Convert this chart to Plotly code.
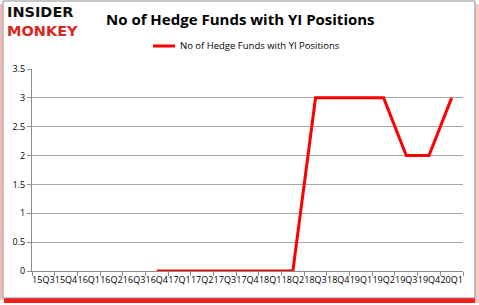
import plotly.graph_objects as go

quarters = ["15Q3", "15Q4", "16Q1", "16Q2", "16Q3", "16Q4", "17Q1", "17Q2", "17Q3", "17Q4",
            "18Q1", "18Q2", "18Q3", "18Q4", "19Q1", "19Q2", "19Q3", "19Q4", "20Q1"]
funds = [None, None, None, None, None, 0, 0, 0, 0, 0, 0, 0, 3, 3, 3, 3, 2, 2, 3]
y_ticks = [0, 0.5, 1, 1.5, 2, 2.5, 3, 3.5]
y_labels = ["0", "0.5", "1", "1.5", "2", "2.5", "3", "3.5"]
series_name = "No of Hedge Funds with YI Positions"
title_text = "No of Hedge Funds with YI Positions"

W, H = 479, 305
L, R, T, B = 32, 16, 69, 34
pw, ph = W - L - R, H - T - B


def px(x):
    return (x - L) / pw


def py(y):
    return (H - B - y) / ph


fig = go.Figure()
fig.add_trace(go.Scatter(
    x=quarters, y=funds, mode="lines", name=series_name,
    line=dict(color="#ff0000", width=3), connectgaps=False,
))

shapes = [
    dict(type="rect", xref="paper", yref="paper", x0=px(4), x1=px(478), y0=py(303), y1=py(298),
         fillcolor="#ff1a1a", line=dict(width=0), layer="below"),
    dict(type="rect", xref="paper", yref="paper", x0=px(475), x1=px(479), y0=py(303), y1=py(4),
         fillcolor="#ffc8c8", line=dict(width=0), layer="below"),
    dict(type="rect", xref="paper", yref="paper", x0=px(0), x1=px(2.5), y0=py(300), y1=py(4),
         fillcolor="#f4b8b8", line=dict(width=0), layer="below"),
    dict(type="rect", xref="paper", yref="paper", x0=px(3), x1=px(475), y0=py(298), y1=py(1),
         line=dict(color="#8c8c8c", width=1), fillcolor="rgba(0,0,0,0)", layer="below"),
    dict(type="line", xref="paper", yref="paper", x0=px(153), x1=px(175), y0=py(46), y1=py(46),
         line=dict(color="#ff0000", width=3)),
]

annotations = [
    dict(text="<b>" + title_text + "</b>", x=px(240), y=py(19), xref="paper", yref="paper",
         showarrow=False, xanchor="center", yanchor="middle",
         font=dict(family="Open Sans", size=15, color="#000000")),
    dict(text=series_name, x=px(178), y=py(46), xref="paper", yref="paper",
         showarrow=False, xanchor="left", yanchor="middle",
         font=dict(family="Open Sans", size=9.5, color="#000000")),
    dict(text="<b>INSIDER</b><br><b><span style='color:#d8271c'>MONKEY</span></b>",
         x=px(5), y=py(21), xref="paper", yref="paper", align="left",
         showarrow=False, xanchor="left", yanchor="middle",
         font=dict(family="DejaVu Sans", size=14.5, color="#111111")),
]

fig.update_layout(
    width=W, height=H, margin=dict(l=L, r=R, t=T, b=B),
    paper_bgcolor="#ffffff", plot_bgcolor="#ffffff",
    showlegend=False, shapes=shapes, annotations=annotations,
    font=dict(family="Open Sans", size=9, color="#000000"),
)
fig.update_xaxes(
    type="category", categoryorder="array", categoryarray=quarters,
    range=[-0.5, len(quarters) - 0.5], tickangle=0,
    showline=True, linecolor="#8c8c8c", linewidth=1,
    ticks="outside", tickson="boundaries", ticklen=4, tickcolor="#8c8c8c",
    showgrid=False, tickfont=dict(size=9, family="Open Sans"),
)
fig.update_yaxes(
    range=[0, 3.5], tickvals=y_ticks, ticktext=y_labels,
    showline=True, linecolor="#8c8c8c", linewidth=1,
    ticks="outside", ticklen=4, tickcolor="#8c8c8c",
    showgrid=True, gridcolor="#a6a6a6", gridwidth=1, zeroline=False,
    tickfont=dict(size=9, family="Open Sans"),
)

fig.write_html("out.html")
